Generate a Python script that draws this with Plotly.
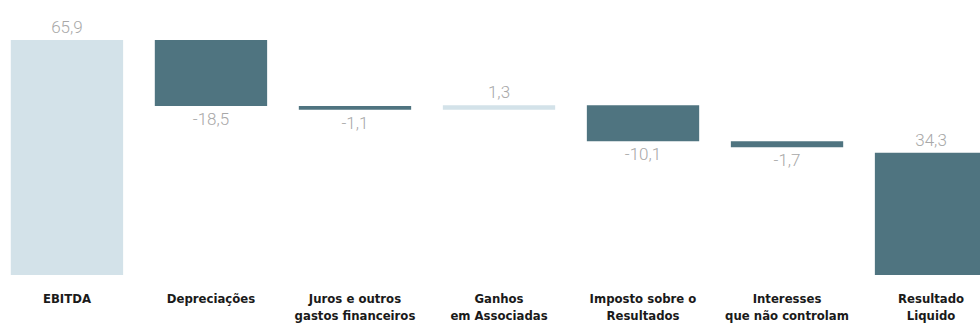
import plotly.graph_objects as go

categories = ["EBITDA", "Depreciações", "Juros e outros<br>gastos financeiros",
              "Ganhos<br>em Associadas", "Imposto sobre o<br>Resultados",
              "Interesses<br>que não controlam", "Resultado<br>Liquido"]
values = [65.9, -18.5, -1.1, 1.3, -10.1, -1.7, 34.3]
measures = ["relative", "relative", "relative", "relative", "relative", "relative", "absolute"]

labels = [f"{v:.1f}".replace(".", ",") for v in values]

LIGHT = "#d3e2e9"
DARK = "#4f7480"

fig = go.Figure(go.Waterfall(
    x=categories,
    y=values,
    measure=measures,
    text=labels,
    texttemplate="%{text}",
    textposition="outside",
    textfont=dict(family="Roboto", size=17, color="#a8a8a8", weight=300),
    increasing=dict(marker=dict(color=LIGHT)),
    decreasing=dict(marker=dict(color=DARK)),
    totals=dict(marker=dict(color=DARK)),
    connector=dict(visible=False),
    cliponaxis=False,
))

fig.update_layout(
    width=980, height=327,
    margin=dict(l=0, r=0, t=0, b=52),
    paper_bgcolor="white", plot_bgcolor="white",
    waterfallgap=0.22,
    showlegend=False,
    separators=",.",
    xaxis=dict(range=[-0.465, 6.34], showgrid=False, zeroline=False, showline=False,
               ticks="outside", ticklen=11, tickcolor="rgba(0,0,0,0)",
               tickfont=dict(family="DejaVu Sans Condensed", size=13, color="#1a1a1a", weight="bold")),
    yaxis=dict(range=[0, 77.1], visible=False),
)

fig.write_html("out.html")
